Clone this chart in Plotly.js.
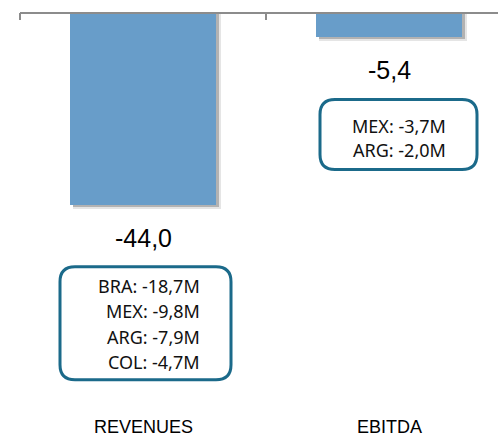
<!DOCTYPE html>
<html>
<head>
<meta charset="utf-8">
<script src="https://cdn.plot.ly/plotly-3.0.1.min.js"></script>
<style>html,body{margin:0;padding:0;background:#fff;}#chart{width:498px;height:442px;}</style>
</head>
<body>
<div id="chart"></div>
<script>
// ---- data ----
var categories = ['REVENUES', 'EBITDA'];
var values = [-44.0, -5.4];
var valueLabels = ['-44,0', '-5,4'];
var breakdownRevenues = ['BRA: -18,7M', 'MEX: -9,8M', 'ARG: -7,9M', 'COL: -4,7M'];
var breakdownEbitda = ['MEX: -3,7M', 'ARG: -2,0M'];
var breakdowns = [breakdownRevenues, breakdownEbitda];

// ---- layout constants ----
var W = 498, H = 442, ML = 18, MT = 13;
var plotW = W - ML, plotH = H - MT;
var pxPerCat = 246;
var xMin = -0.5 - 2 / pxPerCat, xMax = xMin + plotW / pxPerCat;
var pxPerUnit = 4.36;
var yMin = -plotH / pxPerUnit, yMax = 0;

function dx(px) { return px / pxPerCat; }            // pixel offset -> x units
function dy(px) { return -px / pxPerUnit; }          // pixel offset downward -> y units
var xIdx = categories.map(function (c, i) { return i; });

var barColor = '#689DC9';
var boxColor = '#1B6A8A';
var axisColor = '#8c8c8c';
var barWidth = 0.59;

var traces = [
  { // soft shadow
    type: 'bar', x: xIdx.map(function (i) { return i + dx(4); }),
    y: values.map(function (v) { return v + dy(4); }),
    width: barWidth + dx(2), marker: { color: 'rgba(0,0,0,0.10)', line: { width: 0 } },
    hoverinfo: 'skip', showlegend: false
  },
  {
    type: 'bar', x: xIdx.map(function (i) { return i + dx(3); }),
    y: values.map(function (v) { return v + dy(2.5); }),
    width: barWidth, marker: { color: 'rgba(0,0,0,0.22)', line: { width: 0 } },
    hoverinfo: 'skip', showlegend: false
  },
  {
    type: 'bar', x: xIdx, y: values, width: barWidth,
    marker: { color: barColor, line: { width: 0 } },
    hovertext: categories, hoverinfo: 'text+y', showlegend: false
  }
];

var annotations = [];
var shapes = [
  { type: 'line', xref: 'x', yref: 'paper', x0: -0.5, x1: xMax, y0: 1, y1: 1,
    line: { color: axisColor, width: 2 } }
];

// box geometry relative to bar end / bar center (pixels)
var boxSpec = [
  { left: -83, right: 88, top: 62, height: 113, first: 19, pitch: 25.5 },
  { left: -69, right: 88, top: 63, height: 70, first: 26, pitch: 24 }
];

xIdx.forEach(function (i) {
  var v = values[i];
  annotations.push({
    x: i, xref: 'x', y: 0, yref: 'paper', yanchor: 'bottom', yshift: 3,
    text: categories[i], showarrow: false,
    font: { family: 'Liberation Sans, Arial, sans-serif', size: 18, color: '#000' }
  });
  annotations.push({
    x: i, y: v, yanchor: 'middle', yshift: -33, text: valueLabels[i], showarrow: false,
    font: { family: 'Liberation Sans, Arial, sans-serif', size: 25, color: '#000' }
  });
  var s = boxSpec[i];
  var r = 15;
  var x0 = i + dx(s.left), x1 = i + dx(s.right);
  var y0 = v + dy(s.top), y1 = v + dy(s.top + s.height);
  var rx = dx(r), ry = dy(r);
  var p = 'M ' + (x0 + rx) + ',' + y0 +
    ' L ' + (x1 - rx) + ',' + y0 +
    ' Q ' + x1 + ',' + y0 + ' ' + x1 + ',' + (y0 + ry) +
    ' L ' + x1 + ',' + (y1 - ry) +
    ' Q ' + x1 + ',' + y1 + ' ' + (x1 - rx) + ',' + y1 +
    ' L ' + (x0 + rx) + ',' + y1 +
    ' Q ' + x0 + ',' + y1 + ' ' + x0 + ',' + (y1 - ry) +
    ' L ' + x0 + ',' + (y0 + ry) +
    ' Q ' + x0 + ',' + y0 + ' ' + (x0 + rx) + ',' + y0 + ' Z';
  shapes.push({ type: 'path', path: p, xref: 'x', yref: 'y', line: { color: boxColor, width: 3 }, fillcolor: 'rgba(0,0,0,0)' });
  breakdowns[i].forEach(function (t, k) {
    annotations.push({
      x: i + dx(59), y: v + dy(s.top + s.first + k * s.pitch), xanchor: 'right', yanchor: 'middle',
      text: t, showarrow: false, align: 'right',
      font: { family: 'Noto Sans, Open Sans, sans-serif', size: 18, color: '#111' }
    });
  });
});

var layout = {
  width: W, height: H,
  margin: { l: ML, r: 0, t: MT, b: 0, pad: 0 },
  paper_bgcolor: '#fff', plot_bgcolor: '#fff',
  barmode: 'overlay', bargap: 0,
  xaxis: {
    type: 'linear', range: [xMin, xMax], side: 'top',
    tickvals: [-0.5, 0.5, 1.5], showticklabels: false,
    ticks: 'inside', ticklen: 7, tickwidth: 2, tickcolor: axisColor,
    showline: false, showgrid: false, zeroline: false, fixedrange: true
  },
  yaxis: { range: [yMin, yMax], visible: false, showgrid: false, zeroline: false, fixedrange: true },
  annotations: annotations,
  shapes: shapes,
  showlegend: false
};

Plotly.newPlot('chart', traces, layout, { staticPlot: true, displayModeBar: false });
</script>
</body>
</html>
